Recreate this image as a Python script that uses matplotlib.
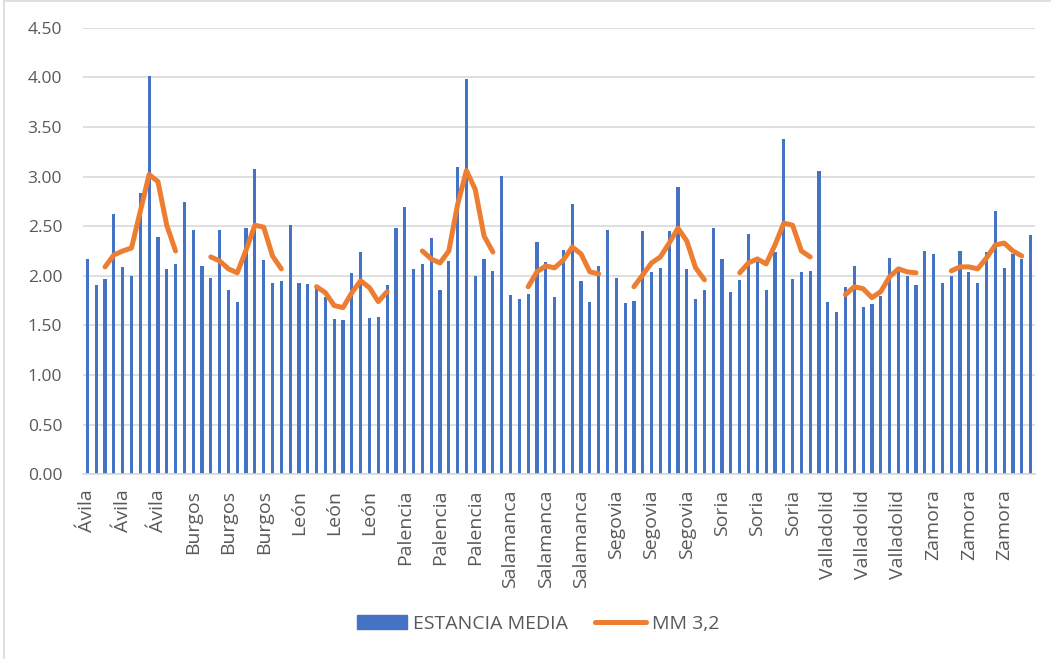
import numpy as np
import matplotlib
matplotlib.use('Agg')
import matplotlib.pyplot as plt
from matplotlib.lines import Line2D

plt.rcParams['font.family'] = ['Open Sans', 'DejaVu Sans']

provinces = ['Ávila', 'Burgos', 'León', 'Palencia', 'Salamanca',
             'Segovia', 'Soria', 'Valladolid', 'Zamora']

# estancia media, 12 values per province
estancia = [
    2.17, 1.91, 1.97, 2.62, 2.09, 2.00, 2.83, 4.01, 2.39, 2.07, 2.12, 2.74,  # Avila
    2.46, 2.10, 1.98, 2.46, 1.86, 1.74, 2.48, 3.08, 2.16, 1.93, 1.95, 2.51,  # Burgos
    1.93, 1.92, 1.88, 1.79, 1.56, 1.55, 2.03, 2.24, 1.57, 1.58, 1.91, 2.48,  # Leon
    2.69, 2.07, 2.12, 2.38, 1.86, 2.15, 3.10, 3.98, 2.00, 2.17, 2.05, 3.01,  # Palencia
    1.81, 1.77, 1.82, 2.34, 2.14, 1.79, 2.26, 2.72, 1.95, 1.74, 2.10, 2.46,  # Salamanca
    1.98, 1.73, 1.75, 2.45, 2.04, 2.08, 2.45, 2.89, 2.07, 1.77, 1.86, 2.48,  # Segovia
    2.17, 1.84, 1.96, 2.42, 2.14, 1.86, 2.24, 3.38, 1.97, 2.04, 2.05, 3.06,  # Soria
    1.74, 1.64, 1.89, 2.10, 1.69, 1.72, 1.80, 2.18, 2.07, 2.00, 1.91, 2.25,  # Valladolid
    2.22, 1.93, 2.00, 2.25, 2.04, 1.93, 2.24, 2.65, 2.08, 2.22, 2.17, 2.41,  # Zamora
]

# MM 3,2 : values for months 3..11 of each province
mm = [
    [2.09, 2.21, 2.25, 2.28, 2.65, 3.02, 2.95, 2.51, 2.25],
    [2.19, 2.15, 2.07, 2.03, 2.26, 2.51, 2.49, 2.20, 2.07],
    [1.89, 1.83, 1.70, 1.68, 1.83, 1.95, 1.88, 1.74, 1.84],
    [2.25, 2.17, 2.13, 2.25, 2.72, 3.06, 2.87, 2.40, 2.24],
    [1.89, 2.04, 2.10, 2.08, 2.16, 2.29, 2.22, 2.04, 2.02],
    [1.89, 2.01, 2.13, 2.19, 2.33, 2.48, 2.35, 2.08, 1.96],
    [2.03, 2.13, 2.17, 2.12, 2.31, 2.53, 2.51, 2.25, 2.19],
    [1.81, 1.89, 1.87, 1.78, 1.84, 1.99, 2.07, 2.04, 2.03],
    [2.05, 2.09, 2.09, 2.07, 2.18, 2.31, 2.33, 2.25, 2.20],
]

blue = '#4472C4'
orange = '#ED7D31'
grey = '#595959'

fig = plt.figure(figsize=(10.51, 6.59), dpi=100)
ax = fig.add_axes([83/1051, 1-474.3/659, (1035-83)/1051, (474.3-27.7)/659])

x = np.arange(len(estancia))
ax.bar(x, estancia, width=0.36, color=blue, zorder=2)

for p in range(len(provinces)):
    xs = np.arange(p*12 + 2, p*12 + 11)
    ax.plot(xs, mm[p], color=orange, lw=3.6, solid_capstyle='round',
            solid_joinstyle='round', zorder=3)

ax.set_xlim(-0.5, len(estancia) - 0.5)
ax.set_ylim(0, 4.5)
ax.set_yticks(np.arange(0, 4.51, 0.5))
ax.set_yticklabels(['%.2f' % v for v in np.arange(0, 4.51, 0.5)])
ax.yaxis.grid(True, color='#D9D9D9', lw=1.2, zorder=0)
ax.set_axisbelow(True)

tick_pos = [p*12 + k for p in range(len(provinces)) for k in (0, 4, 8)]
tick_lab = [provinces[p] for p in range(len(provinces)) for k in (0, 4, 8)]
ax.set_xticks(tick_pos)
ax.set_xticklabels(tick_lab, rotation=90, va='top', ha='center')

ax.tick_params(axis='both', length=0, colors=grey)
ax.tick_params(axis='x', pad=11, labelsize=14)
ax.tick_params(axis='y', pad=15, labelsize=12.5)
for s in ['top', 'right', 'left']:
    ax.spines[s].set_visible(False)
ax.spines['bottom'].set_color('#D9D9D9')
ax.spines['bottom'].set_linewidth(1.2)

handles = [plt.Rectangle((0, 0), 1, 1, color=blue),
           Line2D([0], [0], color=orange, lw=3.6, solid_capstyle='round')]
fig.legend(handles, ['ESTANCIA MEDIA', 'MM 3,2'], loc='center',
           bbox_to_anchor=(538/1051, 1-624/659), ncol=2, frameon=False,
           fontsize=14, labelcolor=grey, handlelength=2.6, handleheight=0.7,
           handletextpad=0.3, columnspacing=1.4)

# chart area border
fig.add_artist(Line2D([4/1051, 4/1051], [0, 1-1/659], color='#D9D9D9', lw=1.2))
fig.add_artist(Line2D([4/1051, 1], [1-1/659, 1-1/659], color='#D9D9D9', lw=1.2))

fig.savefig('out.png', dpi=100)
